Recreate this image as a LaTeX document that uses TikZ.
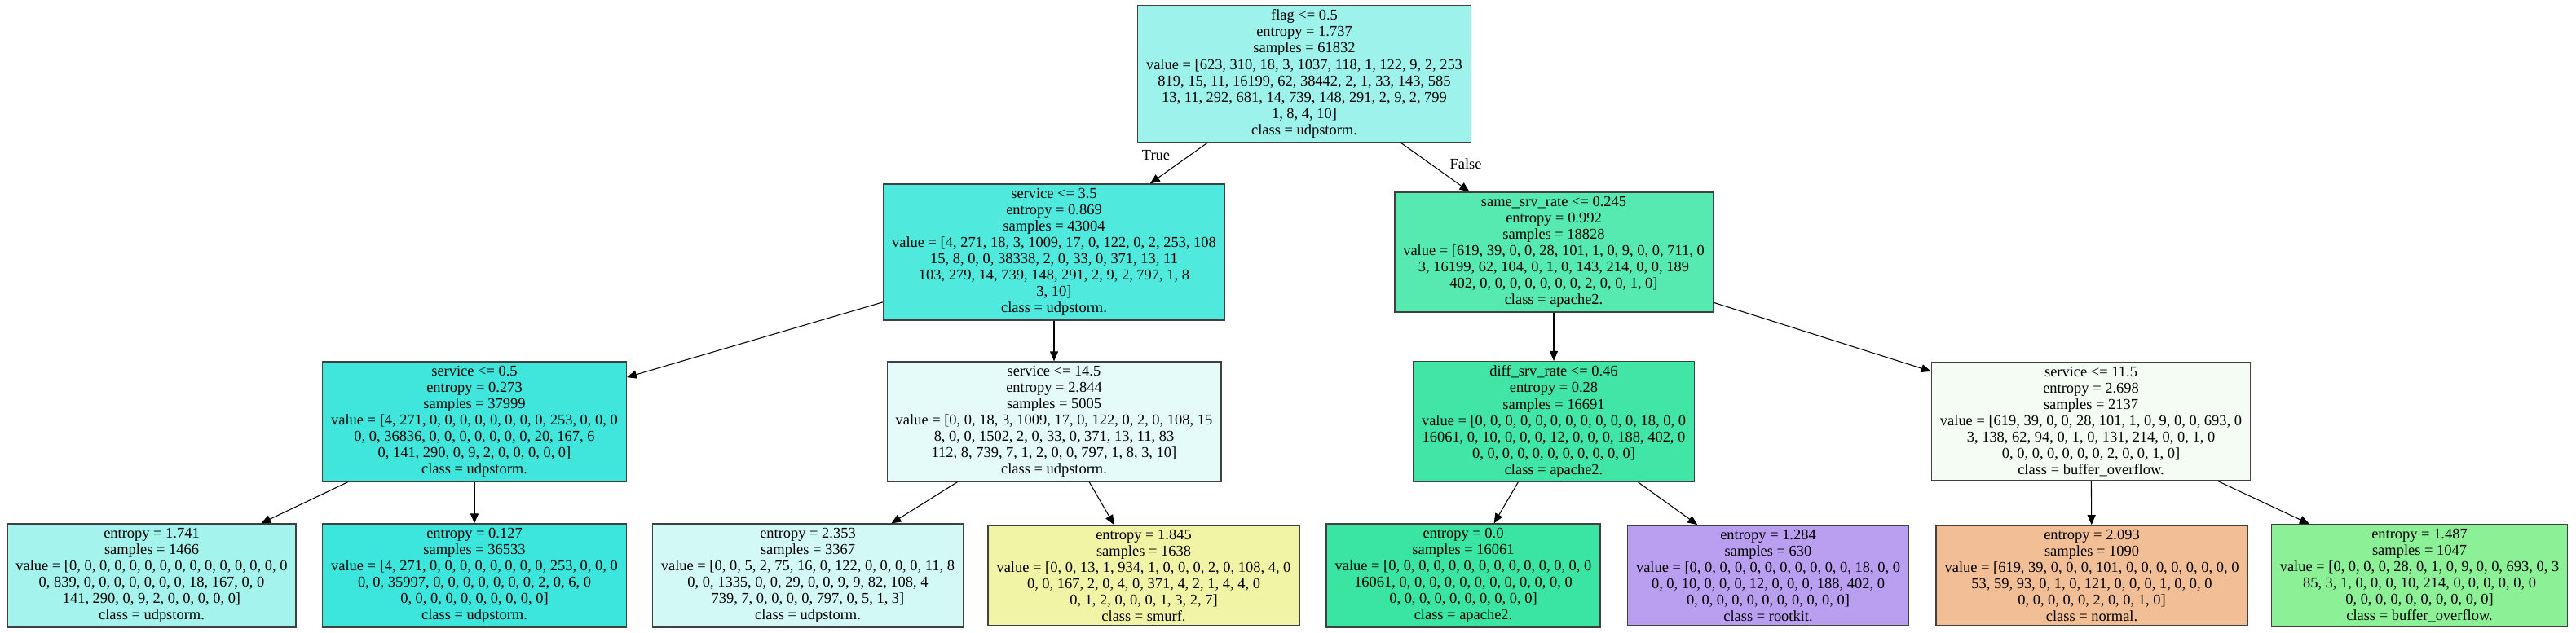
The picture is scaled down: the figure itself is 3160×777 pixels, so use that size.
\documentclass[tikz,border=0pt]{standalone}
\usepackage{fontspec}
\setmainfont{Liberation Serif}
\usetikzlibrary{arrows.meta}

% node fill colours
\definecolor{cRoot}{HTML}{9DF2EC}
\definecolor{cSvcA}{HTML}{50E9DD}
\definecolor{cSame}{HTML}{56E9B0}
\definecolor{cSvcB}{HTML}{40E6DC}
\definecolor{cSvcC}{HTML}{E5FBFA}
\definecolor{cDiff}{HTML}{41E5A6}
\definecolor{cSvcD}{HTML}{F4FCF4}
\definecolor{cLeafA}{HTML}{A4F3ED}
\definecolor{cLeafB}{HTML}{3DE6DC}
\definecolor{cLeafC}{HTML}{D3F9F7}
\definecolor{cLeafD}{HTML}{F1F4A5}
\definecolor{cLeafE}{HTML}{39E5A0}
\definecolor{cLeafF}{HTML}{BA9EF0}
\definecolor{cLeafG}{HTML}{F2BE96}
\definecolor{cLeafH}{HTML}{8CF096}

\begin{document}
\begin{tikzpicture}[
  x = 0.02cm, y = -0.02cm,
  treenode/.style = {
    rectangle,                  % box
    draw          = black!75,   % border
    line width    = .8pt,       % border width
    inner xsep    = 0.21cm,     % sep b/w border and text
    inner ysep    = 3pt,        %
    align         = center,     %
    font          = \fontsize{10.5}{11.4}\selectfont,
    text          = black,      % inner label color
  },
  branch/.style = {
    -{Triangle[length=0.24cm, width=0.2cm]},
    line width    = .6pt,
  },
  branchlbl/.style = {
    font          = \fontsize{10.5}{11.4}\selectfont,
    inner sep     = 0pt,
  },
]
\useasboundingbox (0, 0) rectangle (3160, 777);

% level 0
\node at (1600, 90.5) [treenode, fill = cRoot] (root)
  {flag <= 0.5\\ entropy = 1.737\\ samples = 61832\\
   value = [623, 310, 18, 3, 1037, 118, 1, 122, 9, 2, 253\\
   819, 15, 11, 16199, 62, 38442, 2, 1, 33, 143, 585\\
   13, 11, 292, 681, 14, 739, 148, 291, 2, 9, 2, 799\\
   1, 8, 4, 10]\\ class = udpstorm.};

% level 1
\node at (1293, 309.5) [treenode, fill = cSvcA] (svcA)
  {service <= 3.5\\ entropy = 0.869\\ samples = 43004\\
   value = [4, 271, 18, 3, 1009, 17, 0, 122, 0, 2, 253, 108\\
   15, 8, 0, 0, 38338, 2, 0, 33, 0, 371, 13, 11\\
   103, 279, 14, 739, 148, 291, 2, 9, 2, 797, 1, 8\\
   3, 10]\\ class = udpstorm.};
\node at (1906, 309.5) [treenode, fill = cSame] (same)
  {same\_srv\_rate <= 0.245\\ entropy = 0.992\\ samples = 18828\\
   value = [619, 39, 0, 0, 28, 101, 1, 0, 9, 0, 0, 711, 0\\
   3, 16199, 62, 104, 0, 1, 0, 143, 214, 0, 0, 189\\
   402, 0, 0, 0, 0, 0, 0, 0, 2, 0, 0, 1, 0]\\ class = apache2.};

% level 2
\node at (582, 517.5) [treenode, fill = cSvcB] (svcB)
  {service <= 0.5\\ entropy = 0.273\\ samples = 37999\\
   value = [4, 271, 0, 0, 0, 0, 0, 0, 0, 0, 253, 0, 0, 0\\
   0, 0, 36836, 0, 0, 0, 0, 0, 0, 0, 20, 167, 6\\
   0, 141, 290, 0, 9, 2, 0, 0, 0, 0, 0]\\ class = udpstorm.};
\node at (1293, 517.5) [treenode, fill = cSvcC] (svcC)
  {service <= 14.5\\ entropy = 2.844\\ samples = 5005\\
   value = [0, 0, 18, 3, 1009, 17, 0, 122, 0, 2, 0, 108, 15\\
   8, 0, 0, 1502, 2, 0, 33, 0, 371, 13, 11, 83\\
   112, 8, 739, 7, 1, 2, 0, 0, 797, 1, 8, 3, 10]\\ class = udpstorm.};
\node at (1906, 517.5) [treenode, fill = cDiff] (diff)
  {diff\_srv\_rate <= 0.46\\ entropy = 0.28\\ samples = 16691\\
   value = [0, 0, 0, 0, 0, 0, 0, 0, 0, 0, 0, 18, 0, 0\\
   16061, 0, 10, 0, 0, 0, 12, 0, 0, 0, 188, 402, 0\\
   0, 0, 0, 0, 0, 0, 0, 0, 0, 0, 0]\\ class = apache2.};
\node at (2565, 517.5) [treenode, fill = cSvcD] (svcD)
  {service <= 11.5\\ entropy = 2.698\\ samples = 2137\\
   value = [619, 39, 0, 0, 28, 101, 1, 0, 9, 0, 0, 693, 0\\
   3, 138, 62, 94, 0, 1, 0, 131, 214, 0, 0, 1, 0\\
   0, 0, 0, 0, 0, 0, 0, 2, 0, 0, 1, 0]\\ class = buffer\_overflow.};

% level 3 (leaves)
\node at (186, 706.5) [treenode, fill = cLeafA] (leafA)
  {entropy = 1.741\\ samples = 1466\\
   value = [0, 0, 0, 0, 0, 0, 0, 0, 0, 0, 0, 0, 0, 0, 0\\
   0, 839, 0, 0, 0, 0, 0, 0, 0, 18, 167, 0, 0\\
   141, 290, 0, 9, 2, 0, 0, 0, 0, 0]\\ class = udpstorm.};
\node at (582, 706.5) [treenode, fill = cLeafB] (leafB)
  {entropy = 0.127\\ samples = 36533\\
   value = [4, 271, 0, 0, 0, 0, 0, 0, 0, 0, 253, 0, 0, 0\\
   0, 0, 35997, 0, 0, 0, 0, 0, 0, 0, 2, 0, 6, 0\\
   0, 0, 0, 0, 0, 0, 0, 0, 0, 0]\\ class = udpstorm.};
\node at (991, 706.5) [treenode, fill = cLeafC] (leafC)
  {entropy = 2.353\\ samples = 3367\\
   value = [0, 0, 5, 2, 75, 16, 0, 122, 0, 0, 0, 0, 11, 8\\
   0, 0, 1335, 0, 0, 29, 0, 0, 9, 9, 82, 108, 4\\
   739, 7, 0, 0, 0, 0, 797, 0, 5, 1, 3]\\ class = udpstorm.};
\node at (1403, 706.5) [treenode, fill = cLeafD] (leafD)
  {entropy = 1.845\\ samples = 1638\\
   value = [0, 0, 13, 1, 934, 1, 0, 0, 0, 2, 0, 108, 4, 0\\
   0, 0, 167, 2, 0, 4, 0, 371, 4, 2, 1, 4, 4, 0\\
   0, 1, 2, 0, 0, 0, 1, 3, 2, 7]\\ class = smurf.};
\node at (1795, 706.5) [treenode, fill = cLeafE] (leafE)
  {entropy = 0.0\\ samples = 16061\\
   value = [0, 0, 0, 0, 0, 0, 0, 0, 0, 0, 0, 0, 0, 0\\
   16061, 0, 0, 0, 0, 0, 0, 0, 0, 0, 0, 0, 0\\
   0, 0, 0, 0, 0, 0, 0, 0, 0, 0]\\ class = apache2.};
\node at (2169, 706.5) [treenode, fill = cLeafF] (leafF)
  {entropy = 1.284\\ samples = 630\\
   value = [0, 0, 0, 0, 0, 0, 0, 0, 0, 0, 0, 18, 0, 0\\
   0, 0, 10, 0, 0, 0, 12, 0, 0, 0, 188, 402, 0\\
   0, 0, 0, 0, 0, 0, 0, 0, 0, 0, 0]\\ class = rootkit.};
\node at (2566, 706.5) [treenode, fill = cLeafG] (leafG)
  {entropy = 2.093\\ samples = 1090\\
   value = [619, 39, 0, 0, 0, 101, 0, 0, 0, 0, 0, 0, 0, 0\\
   53, 59, 93, 0, 1, 0, 121, 0, 0, 0, 1, 0, 0, 0\\
   0, 0, 0, 0, 0, 2, 0, 0, 1, 0]\\ class = normal.};
\node at (2968, 706.5) [treenode, fill = cLeafH] (leafH)
  {entropy = 1.487\\ samples = 1047\\
   value = [0, 0, 0, 0, 28, 0, 1, 0, 9, 0, 0, 693, 0, 3\\
   85, 3, 1, 0, 0, 0, 10, 214, 0, 0, 0, 0, 0, 0\\
   0, 0, 0, 0, 0, 0, 0, 0, 0, 0]\\ class = buffer\_overflow.};

% branches
\draw [branch] (root) -- (svcA);
\draw [branch] (root) -- (same);
\draw [branch] (svcA) -- (svcB);
\draw [branch] (svcA) -- (svcC);
\draw [branch] (same) -- (diff);
\draw [branch] (same) -- (svcD);
\draw [branch] (svcB) -- (leafA);
\draw [branch] (svcB) -- (leafB);
\draw [branch] (svcC) -- (leafC);
\draw [branch] (svcC) -- (leafD);
\draw [branch] (diff) -- (leafE);
\draw [branch] (diff) -- (leafF);
\draw [branch] (svcD) -- (leafG);
\draw [branch] (svcD) -- (leafH);

% True / False labels
\node at (1418, 191) [branchlbl] (lblTrue)  {True};
\node at (1798, 201) [branchlbl] (lblFalse) {False};
\end{tikzpicture}
\end{document}
